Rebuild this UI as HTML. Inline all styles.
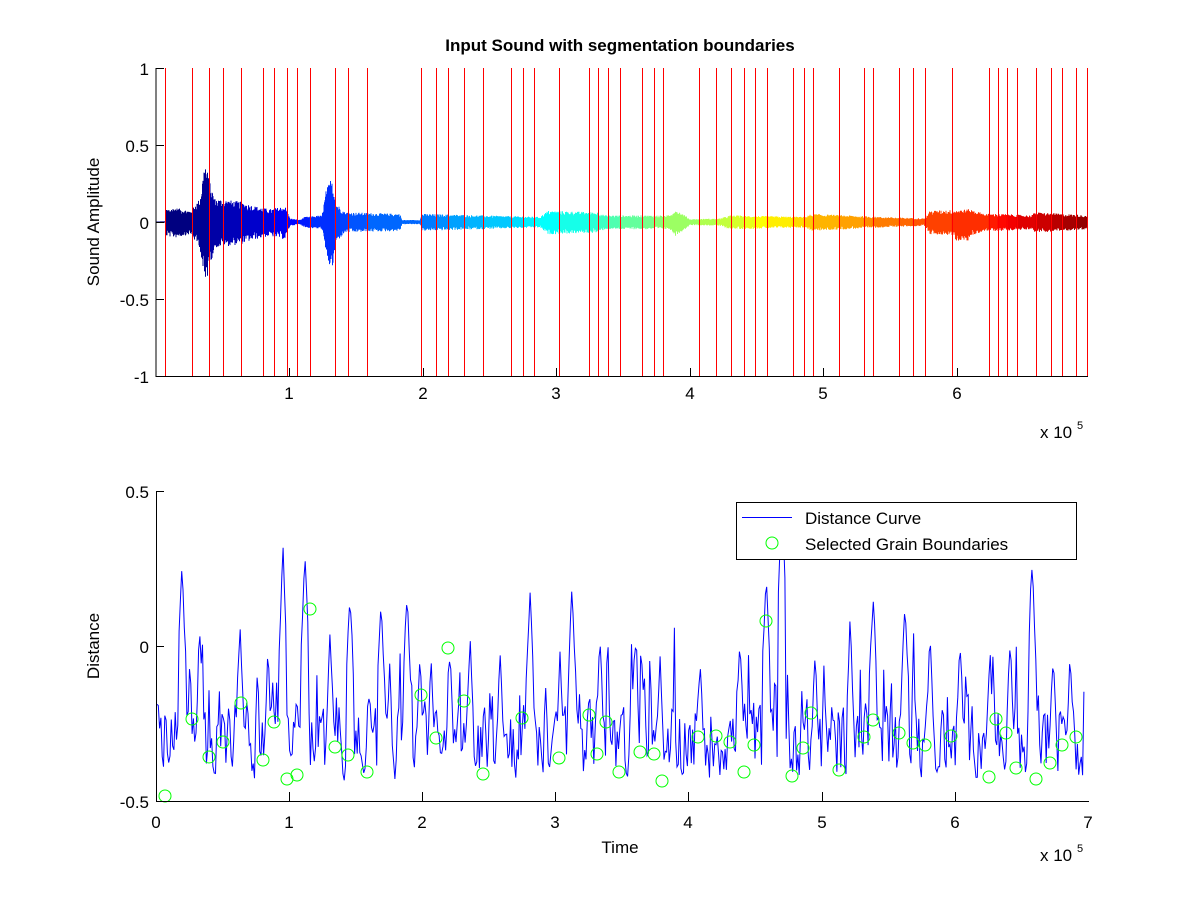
<!DOCTYPE html>
<html><head><meta charset="utf-8"><style>
html,body{margin:0;padding:0;background:#fff}
svg{display:block}
text{font-family:"Liberation Sans",Arial,sans-serif;font-size:17px;fill:#000}
</style></head><body>
<svg id="s" width="1201" height="900" xmlns="http://www.w3.org/2000/svg">
<rect width="1201" height="900" fill="#fff"/>
<g id="wave"></g>
<g id="bounds"></g>
<g id="curve"></g>
<g id="circ"></g>
<g stroke="#000" stroke-width="1" fill="none">
<line x1="156" y1="68" x2="156" y2="377"/>
<line x1="156" y1="376.5" x2="1088" y2="376.5"/>
<line x1="156" y1="68.5" x2="164" y2="68.5"/>
<line x1="156" y1="145.5" x2="164" y2="145.5"/>
<line x1="156" y1="222.5" x2="164" y2="222.5"/>
<line x1="156" y1="299.5" x2="164" y2="299.5"/>
<line x1="289.5" y1="376" x2="289.5" y2="368"/>
<line x1="423.5" y1="376" x2="423.5" y2="368"/>
<line x1="556.5" y1="376" x2="556.5" y2="368"/>
<line x1="690.5" y1="376" x2="690.5" y2="368"/>
<line x1="823.5" y1="376" x2="823.5" y2="368"/>
<line x1="957.5" y1="376" x2="957.5" y2="368"/>
</g>
<text x="620" y="51" text-anchor="middle" font-weight="bold">Input Sound with segmentation boundaries</text>
<g text-anchor="end">
<text x="149" y="75">1</text><text x="149" y="152">0.5</text><text x="149" y="229">0</text>
<text x="149" y="306">-0.5</text><text x="149" y="383">-1</text>
</g>
<g text-anchor="middle">
<text x="289" y="399">1</text><text x="423" y="399">2</text><text x="556" y="399">3</text>
<text x="690" y="399">4</text><text x="823" y="399">5</text><text x="957" y="399">6</text>
</g>
<text x="1040" y="438">x 10</text><text x="1077" y="429" style="font-size:11px">5</text>
<text transform="translate(99,222) rotate(-90)" text-anchor="middle">Sound Amplitude</text>
<g stroke="#000" stroke-width="1" fill="none">
<line x1="156.5" y1="491" x2="156.5" y2="802"/>
<line x1="156" y1="801.5" x2="1089" y2="801.5"/>
<line x1="156" y1="491.5" x2="164" y2="491.5"/>
<line x1="156" y1="646.5" x2="164" y2="646.5"/>
<line x1="289.5" y1="801" x2="289.5" y2="792"/>
<line x1="422.5" y1="801" x2="422.5" y2="792"/>
<line x1="555.5" y1="801" x2="555.5" y2="792"/>
<line x1="688.5" y1="801" x2="688.5" y2="792"/>
<line x1="822.5" y1="801" x2="822.5" y2="792"/>
<line x1="955.5" y1="801" x2="955.5" y2="792"/>
</g>
<g text-anchor="end">
<text x="149" y="498">0.5</text><text x="149" y="653">0</text><text x="149" y="808">-0.5</text>
</g>
<g text-anchor="middle">
<text x="156" y="828">0</text><text x="289" y="828">1</text><text x="422" y="828">2</text><text x="555" y="828">3</text>
<text x="688" y="828">4</text><text x="822" y="828">5</text><text x="955" y="828">6</text><text x="1088" y="828">7</text>
</g>
<text x="620" y="853" text-anchor="middle">Time</text>
<text x="1040" y="861">x 10</text><text x="1077" y="852" style="font-size:11px">5</text>
<text transform="translate(99,646) rotate(-90)" text-anchor="middle">Distance</text>
<rect x="736.5" y="502.5" width="340" height="57" fill="#fff" stroke="#000"/>
<line x1="742" y1="517.5" x2="792" y2="517.5" stroke="#00f"/>
<circle cx="772" cy="543" r="6" fill="none" stroke="#0f0"/>
<text x="805" y="524">Distance Curve</text>
<text x="805" y="550">Selected Grain Boundaries</text>
</svg>
<script>
(function(){
var seed=12345;function rnd(){seed=(seed*1103515245+12345)%2147483648;return seed/2147483648;}
var B=[165,192,209,223,241,263,274,287,297,310,335,348,367,421,436,448,464,483,511,523,534,559,589,598,608,620,642,654,663,699,716,731,744,755,767,793,804,813,839,864,873,899,913,925,952,989,998,1007,1017,1036,1051,1062,1076,1087];
var h="";
B.forEach(function(x){h+='<line x1="'+(x+0.5)+'" y1="68" x2="'+(x+0.5)+'" y2="376" stroke="#f00" stroke-width="1"/>';});
function jet(t){function c(v){return Math.round(255*Math.max(0,Math.min(1,v)));}
var r=1.5-Math.abs(4*t-3),g=1.5-Math.abs(4*t-2),b=1.5-Math.abs(4*t-1);return"rgb("+c(r)+","+c(g)+","+c(b)+")";}
var env=[[156,0],[165,0.001],[166,0.08],[175,0.09],[190,0.07],[200,0.15],[205,0.4],[210,0.25],[215,0.15],[240,0.13],[255,0.1],[270,0.08],[285,0.1],[290,0.02],[300,0.01],[305,0.03],[322,0.04],[326,0.2],[332,0.3],[336,0.12],[345,0.06],[400,0.05],[402,0.01],[420,0.01],[422,0.05],[540,0.03],[548,0.07],[598,0.06],[605,0.04],[670,0.04],[675,0.08],[685,0.04],[690,0.015],[720,0.02],[730,0.04],[805,0.03],[812,0.05],[880,0.03],[925,0.02],[930,0.07],[970,0.08],[985,0.05],[1000,0.05],[1030,0.04],[1036,0.06],[1088,0.04]];
function E(x){for(var i=1;i<env.length;i++){if(x<=env[i][0]){var a=env[i-1],b=env[i];return a[1]+(b[1]-a[1])*(x-a[0])/(b[0]-a[0]);}}return 0.03;}
var w="";var segs=[156].concat(B.slice(1)).concat([1088]);
for(var s=0;s<segs.length-1;s++){var col=jet(s/(segs.length-2));var d="";
for(var x=segs[s];x<segs[s+1];x+=0.5){var a=E(x);var up=a*(0.6+0.4*rnd()),dn=a*(0.6+0.5*rnd());
if(x>955&&x<970)dn*=1.4;d+="M"+x+" "+(222-up*154-0.5).toFixed(1)+"V"+(222+dn*154+0.5).toFixed(1);}
w+='<path d="'+d+'" stroke="'+col+'" stroke-width="1" fill="none"/>';}
document.getElementById("wave").innerHTML=w;document.getElementById("bounds").innerHTML=h;
var pts=[],v=-0.3;var spikes={182:0.28,283:0.33,305:0.31,350:0.2,381:0.18,407:0.2,450:0.0,530:0.2,572:0.22,635:0.05,766:0.26,782:0.5,815:0.0,873:0.2,905:0.18,1032:0.3,1053:0.0,
200:0.05,240:0.1,268:0.0,330:0.05,420:0.0,470:0.05,500:0.0,560:0.0,600:0.05,660:0.0,700:0.0,740:0.05,850:0.1,930:0.05,960:0.05,990:0.0,1010:0.05,1070:0.0};
for(var x=157;x<=1084;x+=1.3){var t=-0.3+(rnd()-0.5)*0.3+(rnd()<0.18?rnd()*0.3:0);v=0.25*v+0.75*t;var val=v;
for(var k in spikes){var dx=Math.abs(x-k);if(dx<4)val=Math.max(val,spikes[k]-dx*0.08-rnd()*0.05);}
val=Math.max(-0.5,Math.min(0.5,val));pts.push(x.toFixed(1)+","+(646-val*310).toFixed(1));}
document.getElementById("curve").innerHTML='<polyline points="'+pts.join(" ")+'" fill="none" stroke="#00f" stroke-width="1"/>';
var C=[[165,796],[192,719],[209,757],[223,742],[241,703],[263,760],[274,722],[287,779],[297,775],[310,609],[335,747],[348,755],[367,772],[421,695],[436,738],[448,648],[464,701],[483,774],[522,718],[559,758],[589,715],[597,754],[606,722],[619,772],[640,752],[654,754],[662,781],[698,737],[716,736],[730,742],[744,772],[754,745],[766,621],[792,776],[803,748],[811,713],[839,770],[864,737],[873,720],[899,733],[913,743],[925,745],[951,736],[989,777],[996,719],[1006,733],[1016,768],[1036,779],[1050,763],[1062,745],[1076,737]];
var c="";C.forEach(function(p){c+='<circle cx="'+p[0]+'" cy="'+p[1]+'" r="6" fill="none" stroke="#0f0" stroke-width="1"/>';});
document.getElementById("circ").innerHTML=c;
})();
</script>
</body></html>
